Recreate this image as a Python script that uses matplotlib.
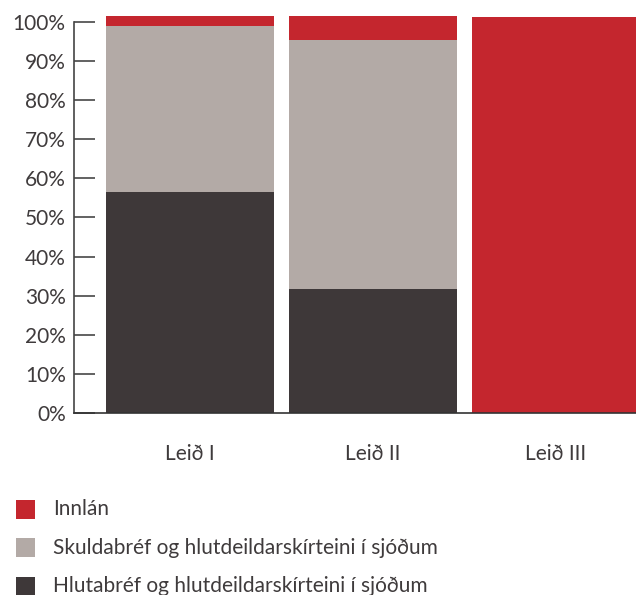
import numpy as np
import matplotlib
matplotlib.use("Agg")
import matplotlib.pyplot as plt
from matplotlib.patches import Rectangle

plt.rcParams['font.family'] = ['Lato', 'DejaVu Sans']

# gögn
leidir = ['Leið I', 'Leið II', 'Leið III']
hlutabref = [56.5, 31.7, 0.0]
skuldabref = [42.5, 63.7, 0.0]
innlan = [2.5, 6.1, 101.3]
flokkar = ['Innlán', 'Skuldabréf og hlutdeildarskírteini í sjóðum',
           'Hlutabréf og hlutdeildarskírteini í sjóðum']
litir = ['#C4262E', '#B3AAA6', '#3E3839']
ytick_vals = list(range(0, 101, 10))

textalitur = '#3F3B3C'
fs = 15

fig = plt.figure(figsize=(6.36, 5.95), dpi=100)
ax = fig.add_axes([74/636, 182/595, 1 - 74/636, 399/595])

x = np.arange(len(leidir))
b = 0.918
ax.bar(x, hlutabref, b, color=litir[2])
ax.bar(x, skuldabref, b, bottom=hlutabref, color=litir[1])
botn = np.array(hlutabref) + np.array(skuldabref)
ax.bar(x, innlan, b, bottom=botn, color=litir[0])

ax.set_xlim(-0.634, 2.437)
ax.set_ylim(0, 102)
ax.set_yticks(ytick_vals)
ax.set_yticklabels([f'{v}%' for v in ytick_vals])
ax.set_xticks(x)
ax.set_xticklabels(leidir)

for s in ['top', 'right']:
    ax.spines[s].set_visible(False)
ax.spines['left'].set_bounds(0, 100)
ax.spines['left'].set_color('#444444')
ax.spines['bottom'].set_color('#333333')
ax.spines['left'].set_linewidth(1.2)
ax.spines['bottom'].set_linewidth(1.2)
ax.spines['bottom'].set_zorder(5)

ax.tick_params(axis='y', direction='in', length=15, width=1.3, color='#555555',
               labelsize=fs, labelcolor=textalitur, pad=6)
ax.tick_params(axis='x', length=0, labelsize=fs, labelcolor=textalitur, pad=22)

# skýringar
for i, (lab, lit) in enumerate(zip(flokkar, litir)):
    yc = 509 + i * 38.5
    fig.add_artist(Rectangle((16/636, 1 - (yc + 9.5)/595), 19/636, 19/595,
                             transform=fig.transFigure, color=lit, lw=0))
    fig.text(53/636, 1 - yc/595, lab, fontsize=fs, color=textalitur,
             va='center', ha='left')

fig.savefig('out.png', dpi=100)
